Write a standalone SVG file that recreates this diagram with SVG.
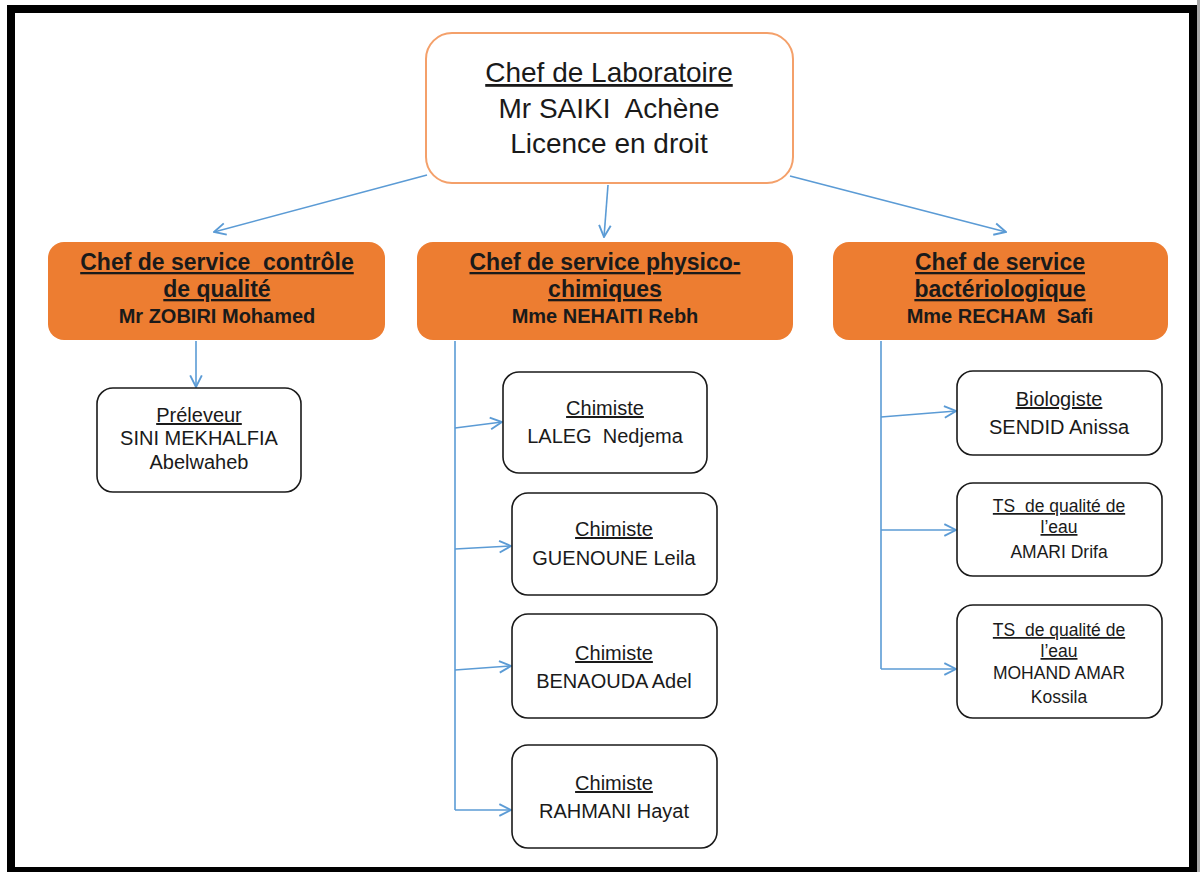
<svg xmlns="http://www.w3.org/2000/svg" width="1200" height="872" viewBox="0 0 1200 872">
<style>
  text { font-family: "Liberation Sans", Arial, sans-serif; fill: #1a1a1a; text-anchor: middle; white-space: pre; }
  .main { font-size: 28px; }
  .hd { font-size: 23px; font-weight: bold; }
  .hdn { font-size: 20px; font-weight: bold; }
  .sm { font-size: 20px; }
  .ts { font-size: 17.5px; }
  .u { text-decoration: underline; }
  .orange { fill: #ED7D31; stroke: none; }
  .white { fill: #ffffff; stroke: #1a1a1a; stroke-width: 1.6; }
  .conn line { stroke: #5B9BD5; stroke-width: 1.6; fill: none; marker-end: url(#arr); }
  .conn .plain { marker-end: none; }
</style>
<defs>
  <marker id="arr" markerUnits="userSpaceOnUse" markerWidth="14" markerHeight="14" viewBox="0 0 12 12" refX="11" refY="6" orient="auto">
    <path d="M1,1 L11,6 L1,11" fill="none" stroke="#5B9BD5" stroke-width="1.6"/>
  </marker>
</defs>
<rect x="0" y="0" width="1200" height="872" fill="#ffffff"/>
<rect x="1197" y="0" width="3" height="872" fill="#a8a8a8"/>
<rect x="11" y="9" width="1182" height="862" fill="none" stroke="#000000" stroke-width="8"/>

<g class="conn">
  <line x1="427" y1="175" x2="214" y2="232"/>
  <line x1="608" y1="185" x2="604" y2="237"/>
  <line x1="790" y1="176" x2="1006" y2="232"/>
  <line x1="196" y1="341" x2="196" y2="387"/>
  <line class="plain" x1="455" y1="341" x2="455" y2="810"/>
  <line x1="455" y1="428" x2="502" y2="422"/>
  <line x1="455" y1="549" x2="511" y2="546"/>
  <line x1="455" y1="670" x2="511" y2="666"/>
  <line x1="455" y1="810" x2="511" y2="810"/>
  <line class="plain" x1="881" y1="341" x2="881" y2="669"/>
  <line x1="881" y1="417" x2="956" y2="411"/>
  <line x1="881" y1="530" x2="956" y2="530"/>
  <line x1="881" y1="669" x2="956" y2="669"/>
</g>

<g id="chef-labo">
  <rect x="426" y="33" width="367" height="150" rx="26" fill="#ffffff" stroke="#F4A06A" stroke-width="2"/>
  <text class="main u" x="609" y="82">Chef de Laboratoire</text>
  <text class="main" x="609" y="118">Mr SAIKI  Achène</text>
  <text class="main" x="609" y="153">Licence en droit</text>
</g>

<g id="chef-controle">
  <rect class="orange" x="48" y="242" width="337" height="98" rx="16"/>
  <text class="hd u" x="217" y="270">Chef de service  contrôle</text>
  <text class="hd u" x="217" y="297">de qualité</text>
  <text class="hdn" x="217" y="323">Mr ZOBIRI Mohamed</text>
</g>

<g id="chef-physico">
  <rect class="orange" x="417" y="242" width="376" height="98" rx="16"/>
  <text class="hd u" x="605" y="270">Chef de service physico-</text>
  <text class="hd u" x="605" y="297">chimiques</text>
  <text class="hdn" x="605" y="323">Mme NEHAITI Rebh</text>
</g>

<g id="chef-bacterio">
  <rect class="orange" x="833" y="242" width="335" height="98" rx="16"/>
  <text class="hd u" x="1000" y="270">Chef de service</text>
  <text class="hd u" x="1000" y="297">bactériologique</text>
  <text class="hdn" x="1000" y="323">Mme RECHAM  Safi</text>
</g>

<g id="preleveur">
  <rect class="white" x="97" y="388" width="204" height="104" rx="16"/>
  <text class="sm u" x="199" y="422">Préleveur</text>
  <text class="sm" x="199" y="445">SINI MEKHALFIA</text>
  <text class="sm" x="199" y="469">Abelwaheb</text>
</g>

<g id="chimiste-laleg">
  <rect class="white" x="503" y="372" width="204" height="101" rx="16"/>
  <text class="sm u" x="605" y="415">Chimiste</text>
  <text class="sm" x="605" y="443">LALEG  Nedjema</text>
</g>

<g id="chimiste-guenoune">
  <rect class="white" x="512" y="493" width="205" height="102" rx="16"/>
  <text class="sm u" x="614" y="536">Chimiste</text>
  <text class="sm" x="614" y="565">GUENOUNE Leila</text>
</g>

<g id="chimiste-benaouda">
  <rect class="white" x="512" y="614" width="205" height="104" rx="16"/>
  <text class="sm u" x="614" y="660">Chimiste</text>
  <text class="sm" x="614" y="688">BENAOUDA Adel</text>
</g>

<g id="chimiste-rahmani">
  <rect class="white" x="512" y="745" width="205" height="103" rx="16"/>
  <text class="sm u" x="614" y="790">Chimiste</text>
  <text class="sm" x="614" y="818">RAHMANI Hayat</text>
</g>

<g id="biologiste">
  <rect class="white" x="957" y="371" width="205" height="84" rx="16"/>
  <text class="sm u" x="1059" y="406">Biologiste</text>
  <text class="sm" x="1059" y="434">SENDID Anissa</text>
</g>

<g id="ts-amari">
  <rect class="white" x="957" y="483" width="205" height="93" rx="16"/>
  <text class="ts u" x="1059" y="512">TS  de qualité de</text>
  <text class="ts u" x="1059" y="533">l’eau</text>
  <text class="ts" x="1059" y="558">AMARI Drifa</text>
</g>

<g id="ts-mohand">
  <rect class="white" x="957" y="605" width="205" height="113" rx="16"/>
  <text class="ts u" x="1059" y="636">TS  de qualité de</text>
  <text class="ts u" x="1059" y="657">l’eau</text>
  <text class="ts" x="1059" y="679">MOHAND AMAR</text>
  <text class="ts" x="1059" y="703">Kossila</text>
</g>
</svg>
